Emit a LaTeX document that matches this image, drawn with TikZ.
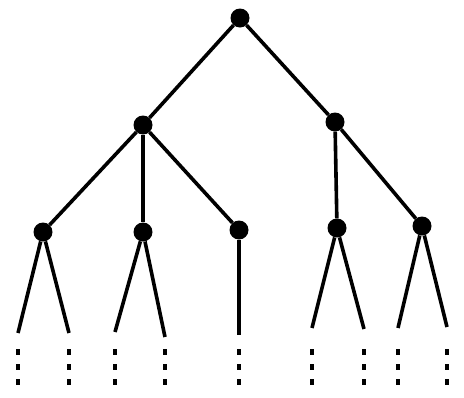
\documentclass[tikz,border=0pt]{standalone}
\begin{document}
\begin{tikzpicture}[x=1pt,y=-1pt,
  vertex/.style={circle,fill=black,inner sep=0pt,minimum size=19pt},
  edge/.style={line width=3.6pt},
  cont/.style={line width=4pt,dash pattern=on 6pt off 9pt}]
\useasboundingbox (0,0) rectangle (464,397);
% inner vertices
\node[vertex] (r)  at (240,18) {};
\node[vertex] (a)  at (143,125) {};
\node[vertex] (b)  at (335,122) {};
\node[vertex] (a1) at (43,232) {};
\node[vertex] (a2) at (143,232) {};
\node[vertex] (a3) at (239,230) {};
\node[vertex] (b1) at (337,228) {};
\node[vertex] (b2) at (422,226) {};
% ends of the drawn branches
\coordinate (l1) at (18,333);
\coordinate (l2) at (69,333);
\coordinate (l3) at (115,332);
\coordinate (l4) at (165,337);
\coordinate (l5) at (239,335);
\coordinate (l6) at (312,328);
\coordinate (l7) at (364,329);
\coordinate (l8) at (398,328);
\coordinate (l9) at (447,327);
% tops and bottoms of the dotted continuations
\foreach \i/\x in {1/18,2/69,3/115,4/165,5/239,6/312,7/364,8/398,9/447}{
  \coordinate (t\i) at (\x,349);
  \coordinate (d\i) at (\x,390);
}
% tree edges
\draw[edge] (r) -- (a);
\draw[edge] (r) -- (b);
\draw[edge] (a) -- (a1);
\draw[edge] (a) -- (a2);
\draw[edge] (a) -- (a3);
\draw[edge] (b) -- (b1);
\draw[edge] (b) -- (b2);
\draw[edge] (a1) -- (l1);
\draw[edge] (a1) -- (l2);
\draw[edge] (a2) -- (l3);
\draw[edge] (a2) -- (l4);
\draw[edge] (a3) -- (l5);
\draw[edge] (b1) -- (l6);
\draw[edge] (b1) -- (l7);
\draw[edge] (b2) -- (l8);
\draw[edge] (b2) -- (l9);
% dotted continuations
\foreach \i in {1,...,9}
  \draw[cont] (t\i) -- (d\i);
\end{tikzpicture}
\end{document}
